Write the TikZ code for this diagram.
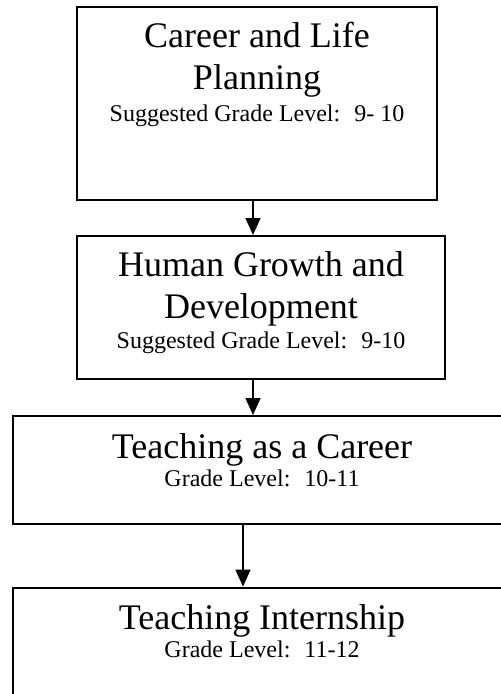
\documentclass[tikz,border=0pt]{standalone}
\usepackage{fontspec}
\setmainfont{Liberation Serif}
\usetikzlibrary{arrows.meta,positioning}

\tikzset{
	course/.style={draw,line width=2pt,inner sep=0pt},
	coursename/.style={font=\fontsize{36}{42}\selectfont,align=center,anchor=base,inner sep=0pt},
	gradeline/.style={font=\fontsize{24}{28}\selectfont,anchor=base,inner sep=0pt},
	flow/.style={line width=1.5pt,-{Triangle[length=17pt,width=15pt]}}
}

\begin{document}
\begin{tikzpicture}[x=1pt,y=-1pt]
	\useasboundingbox (0,0) rectangle (501,694);

	\node[course,minimum width=360,minimum height=192.5] (career) at (257,103.25) {};
	\node[coursename] (careerT) at ([yshift=-83pt]career.north) {Career and Life\\Planning};
	\node[gradeline] (careerG) at ([yshift=-115pt]career.north) {Suggested Grade Level:~ 9- 10};

	\node[course,minimum width=368,minimum height=143] (human) at (261,307.5) {};
	\node[coursename] (humanT) at ([yshift=-83pt]human.north) {Human Growth and\\Development};
	\node[gradeline] (humanG) at ([yshift=-113pt]human.north) {Suggested Grade Level:~ 9-10};

	\node[course,minimum width=498,minimum height=108] (teach) at (262,470) {};
	\node[coursename] (teachT) at ([yshift=-43pt]teach.north) {Teaching as a Career};
	\node[gradeline] (teachG) at ([yshift=-71pt]teach.north) {Grade Level:~ 10-11};

	\node[course,minimum width=498,minimum height=120] (intern) at (262,647.5) {};
	\node[coursename] (internT) at ([yshift=-42.5pt]intern.north) {Teaching Internship};
	\node[gradeline] (internG) at ([yshift=-70.5pt]intern.north) {Grade Level:~ 11-12};

	% arrows
	\draw[flow] ([xshift=-4pt]career.south) -- ([xshift=-4pt]career.south |- human.north);
	\draw[flow] ([xshift=-8pt]human.south) -- ([xshift=-8pt]human.south |- teach.north);
	\draw[flow] ([xshift=-19pt]teach.south) -- ([xshift=-19pt]teach.south |- intern.north);
\end{tikzpicture}
\end{document}
